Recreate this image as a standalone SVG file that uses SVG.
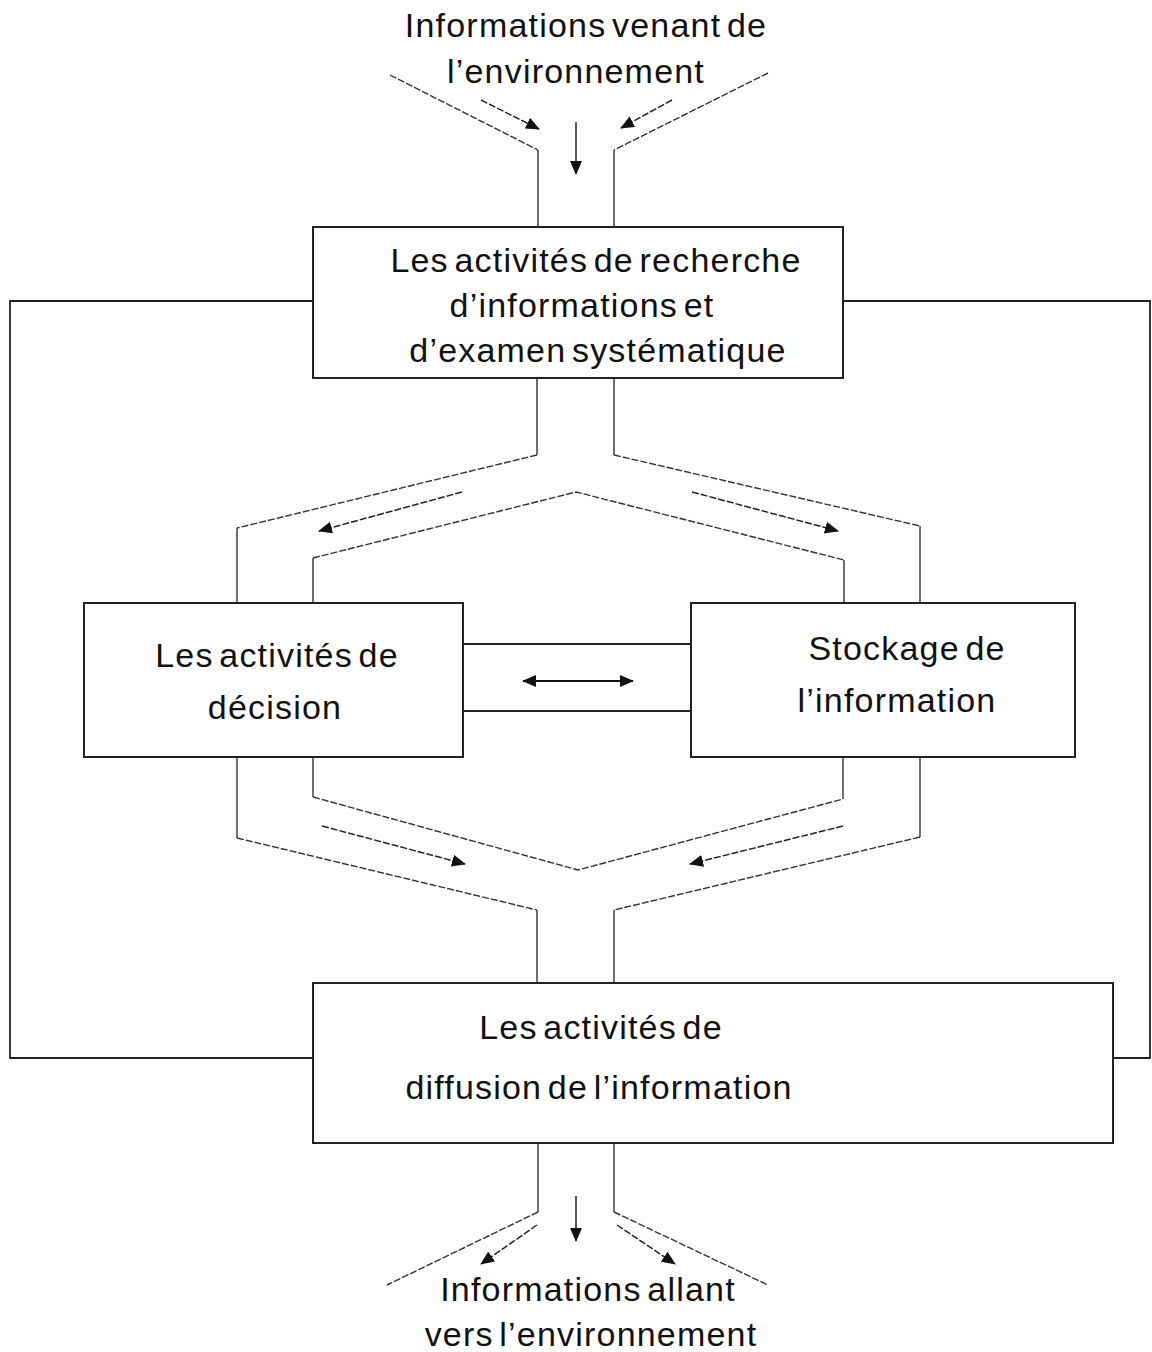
<svg xmlns="http://www.w3.org/2000/svg" width="1152" height="1352" viewBox="0 0 1152 1352">
  <style>
    .box { fill: #fff; stroke: #222; stroke-width: 2; }
    .wall { fill: none; stroke: #333; stroke-width: 1.4; }
    .slant { fill: none; stroke: #333; stroke-width: 1.4; stroke-dasharray: 7 2; }
    .flow { fill: none; stroke: #222; stroke-width: 1.5; marker-end: url(#head); }
    .flowd { fill: none; stroke: #222; stroke-width: 1.5; stroke-dasharray: 7 2; marker-end: url(#head); }
    .loop { fill: none; stroke: #222; stroke-width: 1.8; }
    .label { font-family: "Liberation Sans", Arial, sans-serif; font-size: 34px; letter-spacing: 1.2px; fill: #111; text-anchor: middle; word-spacing: -5px; }
  </style>
  <defs>
    <marker id="head" viewBox="0 0 14 12" refX="13" refY="6" markerWidth="14" markerHeight="12" markerUnits="userSpaceOnUse" orient="auto">
      <path d="M0,0 L14,6 L0,12 Z" fill="#111"/>
    </marker>
    <marker id="tail" viewBox="0 0 14 12" refX="1" refY="6" markerWidth="14" markerHeight="12" markerUnits="userSpaceOnUse" orient="auto">
      <path d="M14,0 L0,6 L14,12 Z" fill="#111"/>
    </marker>
  </defs>

  <rect width="1152" height="1352" fill="#fff"/>

  <!-- connectors -->
  <g id="connectors">
    <!-- incoming channel -->
    <path class="slant" d="M390,75 L538,150"/>
    <path class="wall" d="M538,150 L538,227"/>
    <path class="slant" d="M768,73 L614,150"/>
    <path class="wall" d="M614,150 L614,227"/>
    <path class="flowd" d="M481,100 L539,129"/>
    <path class="flowd" d="M672,100 L621,128"/>
    <path class="flow" d="M576,122 L576,174"/>

    <!-- feedback loops around the sides -->
    <path class="loop" d="M313,301 L10,301 L10,1058 L313,1058"/>
    <path class="loop" d="M843,301 L1150,301 L1150,1058 L1113,1058"/>

    <!-- split towards decision and storage -->
    <path class="wall" d="M537,378 L537,455"/>
    <path class="slant" d="M537,455 L237,528"/>
    <path class="wall" d="M237,528 L237,603"/>
    <path class="wall" d="M614,378 L614,455"/>
    <path class="slant" d="M614,455 L920,526"/>
    <path class="wall" d="M920,526 L920,603"/>
    <path class="wall" d="M313,603 L313,558"/>
    <path class="slant" d="M313,558 L576,492 L844,560"/>
    <path class="wall" d="M844,560 L844,603"/>
    <path class="flowd" d="M462,492 L319,531"/>
    <path class="flowd" d="M692,492 L838,531"/>

    <!-- exchange between decision and storage -->
    <path class="loop" d="M463,644 L691,644"/>
    <path class="loop" d="M463,711 L691,711"/>
    <path fill="none" stroke="#111" stroke-width="1.8" marker-start="url(#tail)" marker-end="url(#head)" d="M523,681 L633,681"/>

    <!-- merge towards diffusion -->
    <path class="wall" d="M237,757 L237,838"/>
    <path class="slant" d="M237,838 L537,910"/>
    <path class="wall" d="M537,910 L537,983"/>
    <path class="wall" d="M920,757 L920,837"/>
    <path class="slant" d="M920,837 L614,910"/>
    <path class="wall" d="M614,910 L614,983"/>
    <path class="wall" d="M313,757 L313,797"/>
    <path class="slant" d="M313,797 L578,870 L843,799"/>
    <path class="wall" d="M843,799 L843,757"/>
    <path class="flowd" d="M322,826 L465,864"/>
    <path class="flowd" d="M843,826 L690,864"/>

    <!-- outgoing channel -->
    <path class="wall" d="M538,1143 L538,1212"/>
    <path class="slant" d="M538,1212 L387,1285"/>
    <path class="wall" d="M614,1143 L614,1212"/>
    <path class="slant" d="M614,1212 L768,1285"/>
    <path class="flowd" d="M537,1225 L481,1264"/>
    <path class="flowd" d="M617,1225 L675,1264"/>
    <path class="flow" d="M576,1196 L576,1241"/>
  </g>

  <g id="env-in">
    <text class="label" x="586" y="37">Informations venant de</text>
    <text class="label" x="576" y="83">l’environnement</text>
  </g>

  <g id="recherche">
    <rect class="box" x="313" y="227" width="530" height="151"/>
    <text class="label" x="596" y="272">Les activités de recherche</text>
    <text class="label" x="582" y="317">d’informations et</text>
    <text class="label" x="598" y="362">d’examen systématique</text>
  </g>

  <g id="decision">
    <rect class="box" x="84" y="603" width="379" height="154"/>
    <text class="label" x="277" y="667">Les activités de</text>
    <text class="label" x="275" y="719">décision</text>
  </g>

  <g id="stockage">
    <rect class="box" x="691" y="603" width="384" height="154"/>
    <text class="label" x="907" y="660">Stockage de</text>
    <text class="label" x="897" y="712">l’information</text>
  </g>

  <g id="diffusion">
    <rect class="box" x="313" y="983" width="800" height="160"/>
    <text class="label" x="601" y="1039">Les activités de</text>
    <text class="label" x="599" y="1099">diffusion de l’information</text>
  </g>

  <g id="env-out">
    <text class="label" x="588" y="1301">Informations allant</text>
    <text class="label" x="591" y="1346">vers l’environnement</text>
  </g>
</svg>
